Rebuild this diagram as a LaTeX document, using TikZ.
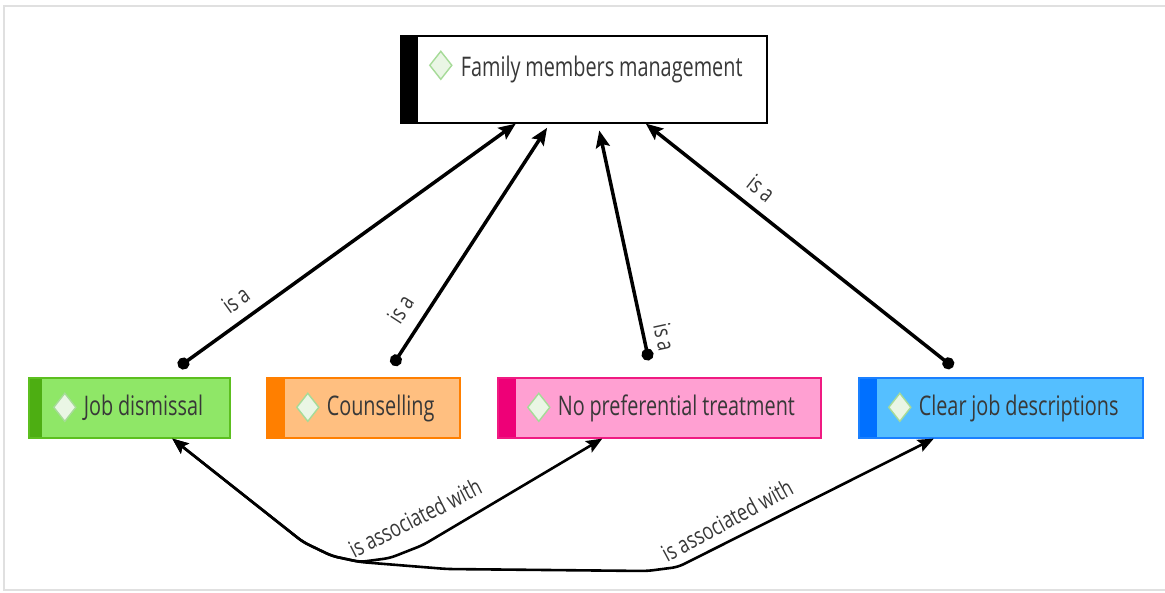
\documentclass[tikz,border=0pt]{standalone}
\usepackage{fontspec}
\setmainfont{Open Sans}[FakeStretch=0.735]
\newfontfamily\lblfam{Open Sans}[FakeStretch=0.76, WordSpace=0.9]
\usetikzlibrary{arrows.meta}

\definecolor{txt}{HTML}{383838}
\definecolor{iconline}{HTML}{A6DB98}
\definecolor{iconfill}{HTML}{EAF6E5}
\definecolor{jdfill}{HTML}{8FE767}
\definecolor{jdbar}{HTML}{4DAE12}
\definecolor{jdline}{HTML}{5CBF1F}
\definecolor{csfill}{HTML}{FFBF80}
\definecolor{csbar}{HTML}{FF7F00}
\definecolor{npfill}{HTML}{FFA0D2}
\definecolor{npbar}{HTML}{EE0077}
\definecolor{npline}{HTML}{F01A82}
\definecolor{cjfill}{HTML}{55BFFF}
\definecolor{cjbar}{HTML}{0070FF}
\definecolor{cjline}{HTML}{1A80FF}

\newcommand{\boxfont}{\fontsize{27}{30}\selectfont}
\newcommand{\lblfont}{\lblfam\fontsize{23.5}{26}\selectfont}

\tikzset{
  % coloured card: bar colour, bar width
  card/.style 2 args={
    anchor=north west, inner sep=0pt, line width=1.6pt, align=left,
    font=\boxfont, text=txt,
    execute at begin node={\spaceskip=4.8pt\relax},
    path picture={
      \fill[#1] (path picture bounding box.north west)
        rectangle ([xshift=#2]path picture bounding box.south west);
      \draw[line width=1.4pt, draw=iconline, fill=iconfill]
        ([xshift={#2+23pt}, yshift=-29.5pt]path picture bounding box.north west)
        +(0,14pt) -- +(11pt,0) -- +(0,-14pt) -- +(-11pt,0) -- cycle;
    }},
  lowcard/.style={minimum height=60pt, text height=38pt, text depth=22pt},
  isa/.style={line width=3.5pt, line cap=round,
    {Circle[length=12pt]}-{Stealth[length=17pt,width=14pt,inset=3pt]}},
  assoc/.style={line width=2.6pt, rounded corners=6pt,
    {Stealth[length=16pt,width=13pt,inset=3pt]}-{Stealth[length=16pt,width=13pt,inset=3pt]}},
  lbl/.style={font=\lblfont, text=txt, inner sep=0pt},
}

\begin{document}
\begin{tikzpicture}[x=1pt, y=-1pt]
\useasboundingbox (0,0) rectangle (1165,592);
% page frame (open to the right)
\draw[black!12, line width=1.6pt] (1165,6) -- (4,6) -- (4,590) -- (1165,590);

% cards
\node[card={black}{17pt}, draw=black, fill=white, text width=366pt,
      text height=41pt, text depth=46pt] (fm) at (400,35)
  {\hspace*{60pt}Family members management};
\node[card={jdbar}{13pt}, lowcard, draw=jdline, fill=jdfill, text width=201pt] (jd) at (28,377)
  {\hspace*{55pt}Job dismissal};
\node[card={csbar}{18pt}, lowcard, draw=csbar, fill=csfill, text width=193pt] (cs) at (266,377)
  {\hspace*{60pt}Counselling};
\node[card={npbar}{18pt}, lowcard, draw=npline, fill=npfill, text width=323pt] (np) at (497,377)
  {\hspace*{60pt}No preferential treatment};
\node[card={cjbar}{18pt}, lowcard, draw=cjline, fill=cjfill, text width=284pt] (cj) at (858,377)
  {\hspace*{60pt}Clear job descriptions};

% "is a" links
\draw[isa, shorten <=17pt] ([xshift=35.5pt]jd.north) -- ([xshift=-68pt]fm.south)
  node[lbl, sloped, pos=0.237, yshift=21pt] {is a};
\draw[isa, shorten <=14pt, shorten >=5pt] ([xshift=21.7pt]cs.north) -- ([xshift=-34pt]fm.south)
  node[lbl, sloped, pos=0.216, yshift=24pt] {is a};
\draw[isa, shorten <=17pt, shorten >=7pt] ([xshift=-6.9pt]np.north) -- ([xshift=14pt]fm.south)
  node[lbl, sloped, pos=0.14, yshift=20pt] {is a};
\draw[isa, shorten <=16pt] ([xshift=-35.3pt]cj.north) -- ([xshift=62pt]fm.south)
  node[lbl, sloped, pos=0.68, yshift=21pt] {is a};

% "is associated with" links
\coordinate (k1) at (303,542);
\coordinate (k2) at (332,556);
\coordinate (jn) at (360,562);
\coordinate (a1) at (390,558);
\coordinate (a2) at (423,545);
\coordinate (c1) at (447,569);
\coordinate (c2) at (647,571);
\coordinate (c3) at (678,567);
\draw[assoc] ([xshift=43pt]jd.south) -- (k1) -- (k2) -- (jn) -- (a1) -- (a2) -- ([xshift=-57pt]np.south);
\draw[assoc] ([xshift=43pt]jd.south) -- (k1) -- (k2) -- (jn) -- (c1) -- (c2) -- (c3) -- ([xshift=-67pt]cj.south);
\node[lbl, rotate=27] (la) at (415,518) {is associated with};
\node[lbl, rotate=28.5] (lb) at (727,520) {is associated with};
\end{tikzpicture}
\end{document}
